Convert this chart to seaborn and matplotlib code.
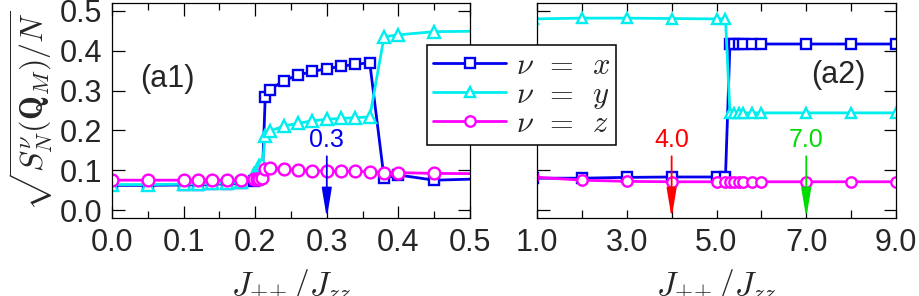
import matplotlib
matplotlib.use('Agg')
import matplotlib.pyplot as plt
from matplotlib.ticker import MultipleLocator, FuncFormatter
import seaborn as sns

# panel (a1): small J_pm_pm / J_zz
j_left = [0.0, 0.05, 0.10, 0.12, 0.14, 0.16, 0.18, 0.198, 0.202, 0.206, 0.21,
          0.214, 0.22, 0.24, 0.26, 0.28, 0.30, 0.32, 0.34, 0.36, 0.38, 0.40, 0.45, 0.55]
sx_left = [0.062, 0.062, 0.063, 0.064, 0.065, 0.066, 0.068, 0.072, 0.075, 0.080, 0.085,
           0.283, 0.302, 0.325, 0.339, 0.348, 0.355, 0.361, 0.366, 0.370, 0.080, 0.088, 0.075, 0.080]
sy_left = [0.064, 0.064, 0.065, 0.066, 0.067, 0.068, 0.070, 0.090, 0.100, 0.110, 0.115,
           0.186, 0.198, 0.211, 0.218, 0.224, 0.228, 0.230, 0.232, 0.234, 0.435, 0.440, 0.448, 0.450]
sz_left = [0.075, 0.075, 0.075, 0.075, 0.075, 0.075, 0.075, 0.077, 0.077, 0.078, 0.080,
           0.104, 0.106, 0.102, 0.100, 0.099, 0.098, 0.097, 0.097, 0.096, 0.094, 0.094, 0.092, 0.091]

# panel (a2): large J_pm_pm / J_zz (first point lies left of the visible range)
j_right = [0.9, 2.0, 3.0, 4.0, 5.0, 5.2, 5.3, 5.4, 5.5, 5.6, 5.8, 6.0, 7.0, 8.0, 9.0]
sx_right = [0.080, 0.080, 0.082, 0.083, 0.083, 0.083, 0.417, 0.417, 0.417, 0.417, 0.417,
            0.417, 0.417, 0.417, 0.417]
sy_right = [0.480, 0.482, 0.482, 0.481, 0.480, 0.480, 0.244, 0.244, 0.244, 0.244, 0.244,
            0.244, 0.244, 0.244, 0.244]
sz_right = [0.083, 0.075, 0.072, 0.071, 0.071, 0.071, 0.071, 0.071, 0.071, 0.071, 0.071,
            0.071, 0.071, 0.071, 0.071]

labels = [r'$\nu\ \,=\ \,x$', r'$\nu\ \,=\ \,y$', r'$\nu\ \,=\ \,z$']
colors = ['#0000ee', '#00eeee', '#ff00ff']
markers = ['s', '^', 'o']

sns.set_theme(style='ticks')
plt.rcParams['font.family'] = ['Liberation Sans', 'DejaVu Sans']
plt.rcParams['mathtext.fontset'] = 'cm'
plt.rcParams['xtick.direction'] = 'in'
plt.rcParams['ytick.direction'] = 'in'
plt.rcParams['axes.linewidth'] = 0.9
plt.rcParams['axes.edgecolor'] = 'black'

fig = plt.figure(figsize=(9.19, 2.96), dpi=100)
ax1 = fig.add_axes([112 / 919, 78 / 296, 358 / 919, 215 / 296])
ax2 = fig.add_axes([537 / 919, 78 / 296, 359 / 919, 215 / 296])

for ys, c, m, lab in zip([sx_left, sy_left, sz_left], colors, markers, labels):
    sns.lineplot(x=j_left, y=ys, ax=ax1, color=c, marker=m, markersize=8.5 if m != 's' else 7,
                 mfc='white', mec=c, mew=1.7, lw=2.0, label=lab, legend=False)
for ys, c, m, lab in zip([sx_right, sy_right, sz_right], colors, markers, labels):
    sns.lineplot(x=j_right, y=ys, ax=ax2, color=c, marker=m, markersize=7.5 if m != 's' else 6.5,
                 mfc='white', mec=c, mew=1.7, lw=2.0, label=lab, legend=False)

ax1.set_xlim(0.0, 0.5)
ax2.set_xlim(1.0, 9.0)
for ax in (ax1, ax2):
    ax.set_ylim(-0.02, 0.52)
    ax.yaxis.set_major_locator(MultipleLocator(0.1))
    ax.tick_params(which='both', top=True, right=True, labelsize=22, pad=7, width=0.9, color='black')
    ax.tick_params(which='major', length=9)
    ax.tick_params(which='minor', length=5)
    ax.set_xlabel(r'$J_{{\pm}{\!\pm}}/J_{zz}$', fontsize=24, labelpad=7)

ax1.xaxis.set_major_locator(MultipleLocator(0.1))
ax1.xaxis.set_minor_locator(MultipleLocator(0.05))
ax1.xaxis.set_major_formatter(FuncFormatter(lambda v, p: f'{v:.1f}'))
ax1.yaxis.set_major_formatter(FuncFormatter(lambda v, p: f'{v:.1f}'))
ax1.set_ylabel(r'$\sqrt{S_N^{\nu}(\mathbf{Q}_M)/N}$', fontsize=23, labelpad=3)

ax2.xaxis.set_major_locator(MultipleLocator(1.0))
ax2.xaxis.set_major_formatter(FuncFormatter(lambda v, p: f'{v:.1f}' if round(v) % 2 == 1 else ''))
ax2.tick_params(axis='x', which='major', length=6)
ax2.tick_params(axis='y', labelleft=False)
ax2.set_ylabel('')

ax1.text(0.077, 0.33, '(a1)', fontsize=22, ha='center', va='center')
ax2.text(7.72, 0.34, '(a2)', fontsize=22, ha='center', va='center')

arrow_style = '-|>,head_length=0.9,head_width=0.15'
for ax, xv, txt, c in [(ax1, 0.3, '0.3', '#0000ee'), (ax2, 4.0, '4.0', '#ff0000'), (ax2, 7.0, '7.0', '#00dd00')]:
    ax.annotate('', xy=(xv, -0.02), xytext=(xv, 0.135),
                arrowprops=dict(arrowstyle=arrow_style, color=c, lw=1.3, mutation_scale=20, shrinkA=0, shrinkB=0))
    ax.text(xv, 0.176, txt, color=c, fontsize=18, ha='center', va='center')

handles, labs = ax2.get_legend_handles_labels()
leg = fig.legend(handles, labs, loc='upper left', bbox_to_anchor=(427 / 919, 1 - 45 / 296),
                 fontsize=22, frameon=True, fancybox=False, framealpha=1, edgecolor='black',
                 labelspacing=-0.05, handletextpad=0.3, borderpad=0.2, handlelength=2.4,
                 borderaxespad=0)
leg.get_frame().set_linewidth(1.1)

fig.savefig('out.png', dpi=100)
